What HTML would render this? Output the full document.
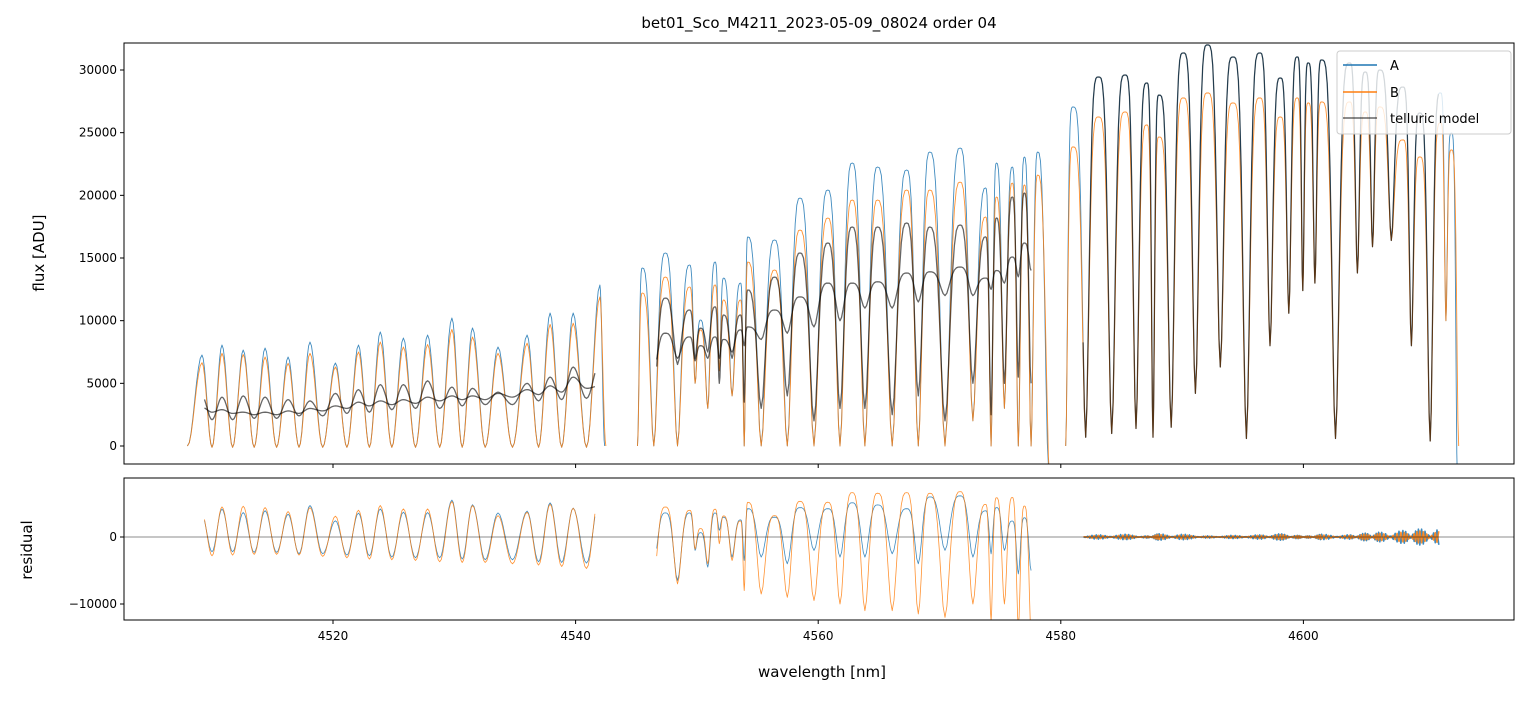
<!DOCTYPE html>
<html><head><meta charset="utf-8"><style>
body{margin:0;background:#fff;}
svg text{font-family:"DejaVu Sans","Liberation Sans",sans-serif;fill:#000;}
</style></head><body>
<svg id="fig" width="1534" height="696" xmlns="http://www.w3.org/2000/svg">
<defs>
<clipPath id="clipTop"><rect x="124" y="43" width="1390" height="421"/></clipPath>
<clipPath id="clipBot"><rect x="124" y="478" width="1390" height="142"/></clipPath>
</defs>
<rect width="1534" height="696" fill="#fff"/>
<text x="819" y="28" font-size="15" text-anchor="middle">bet01_Sco_M4211_2023-05-09_08024  order 04</text>
<g id="topData" clip-path="url(#clipTop)"></g>
<g id="botData" clip-path="url(#clipBot)"></g>
<rect x="124" y="43" width="1390" height="421" fill="none" stroke="#000" stroke-width="1"/>
<rect x="124" y="478" width="1390" height="142" fill="none" stroke="#000" stroke-width="1"/>
<g id="ticks"></g>
<text x="44" y="253" font-size="15" text-anchor="middle" transform="rotate(-90 44 253)">flux [ADU]</text>
<text x="32" y="550" font-size="15" text-anchor="middle" transform="rotate(-90 32 550)">residual</text>
<text x="822" y="677" font-size="15" text-anchor="middle">wavelength [nm]</text>
<g>
<rect x="1337" y="51" width="174" height="83" rx="3" fill="#fff" fill-opacity="0.8" stroke="#ccc"/>
<line x1="1343" y1="65" x2="1377" y2="65" stroke="#1f77b4" stroke-width="1.5"/>
<text x="1390" y="70" font-size="13">A</text>
<line x1="1343" y1="92" x2="1377" y2="92" stroke="#ff7f0e" stroke-width="1.5"/>
<text x="1390" y="97" font-size="13">B</text>
<line x1="1343" y1="118" x2="1377" y2="118" stroke="#000" stroke-opacity="0.6" stroke-width="1.5"/>
<text x="1390" y="123" font-size="13">telluric model</text>
</g>
</svg>
<script>
// ---- data ----
const xTicks=[4520,4540,4560,4580,4600];
const yTicksTop=[0,5000,10000,15000,20000,25000,30000];
const yTicksBot=[-10000,0];
// segment 1
const peakWl1=[4509.2,4510.85,4512.6,4514.4,4516.3,4518.1,4520.2,4522.1,4523.9,4525.8,4527.8,4529.8,4531.5,4533.6,4536.0,4537.9,4539.8,4542.0];
const peakA1=[7260,8060,7660,7820,7100,8300,6620,8060,9100,8620,8860,10210,9420,7900,8860,10610,10610,12850];
const peakB1=[6650,7400,7300,7100,6600,7400,6300,7500,8300,7900,8100,9300,8700,7400,8200,9700,9800,11900];
const troughD1=[-100,-100,-100,-100,-100,-100,-100,-100,-100,-100,-100,-100,-100,-100,-100,-100,-100];
const peakMA1=[4000,3900,4000,3900,3700,3600,4200,4500,4900,4900,5200,4700,4600,4300,5000,5500,6300,6700];
const troughMA1=[2100,2100,2200,2200,2400,2400,2600,2700,2900,3000,3000,3200,3300,3300,3600,3700,3800];
const peakMB1=[3100,2900,2700,2700,2800,3000,3200,3500,3600,3700,3900,4000,4000,4200,4500,4800,5500,4800];
const troughMB1=[2700,2600,2500,2500,2600,2800,3000,3200,3300,3400,3600,3700,3700,3900,4100,4300,4600];
// segment 2
const peakWl2=[4545.5,4547.4,4549.4,4550.3,4551.5,4552.2,4553.6,4554.2,4556.4,4558.5,4560.8,4562.8,4564.9,4567.3,4569.2,4571.7,4573.8,4574.7,4576.0,4577.0,4578.1];
const peakA2=[14200,15400,14440,10050,14680,13400,13000,16680,16440,19790,20430,22580,22260,22020,23460,23780,20590,22580,22260,23060,23460];
const peakB2=[12210,13480,12690,9260,12850,11650,11650,14680,14040,17230,18190,19630,19630,20430,20430,21060,18270,19870,20980,20830,21620];
const troughD2=[0,0,5000,3000,6000,4000,0,0,0,0,0,0,0,0,0,2000,0,3000,0,0];
const peakMA2=[11800,11800,10850,9400,11100,10450,10450,12450,13480,15400,16200,17470,17470,17790,17470,17630,16680,18190,19870,20190,16000];
const troughMA2=[4000,6500,7000,7500,5000,7000,3500,3000,4000,2000,3000,3000,2500,4000,2000,5000,2500,5000,5500,5000];
const peakMB2=[8000,9000,8700,8000,8700,8500,9260,9500,10850,11900,13000,13000,13100,13800,13900,14280,13400,14000,15080,16200,16000];
const troughMB2=[6000,7000,6800,7000,7000,7500,8000,8500,9000,9500,10000,11000,11000,11500,12000,12000,12500,13000,13500,14000];
// segment 3
const peakWl3=[4581.0,4583.1,4585.3,4587.1,4588.1,4590.1,4592.1,4594.2,4596.4,4598.1,4599.5,4600.4,4601.5,4603.8,4605.1,4606.3,4608.2,4609.6,4611.3,4612.2];
const peakA3=[27050,29440,29600,28960,28000,31360,32000,31040,31360,29360,31040,30560,30800,30560,29840,30000,28640,26570,28170,24970];
const peakB3=[23860,26250,26650,25610,24650,27770,28170,27370,27770,26250,27770,27370,27450,27450,26650,27050,24420,23060,25770,23620];
const troughD3=[700,1000,1400,700,1500,4200,6300,600,8000,10600,12400,13000,600,13800,15900,16400,8000,400,10000];
const noise3=[300,-400,500,-200,600,-500,200,-300,400,-600,300,-200,500,-400,700,-900,1200,-1500,1500,-2500];
// ---- axes ----
const X=w=>333+(w-4520)*12.13;
const YT=f=>446-f*0.012533;
const YB=r=>537-r*0.0067;
const NS="http://www.w3.org/2000/svg";
function build(wl,peaks,troughs,start,end,w0,w1){
  const pts=[[w0,start]];
  for(let i=0;i<wl.length;i++){
    pts.push([wl[i],peaks[i]]);
    if(i<wl.length-1)pts.push([(wl[i]+wl[i+1])/2,troughs[i]]);
  }
  pts.push([w1,end]);return pts;
}
function sample(pts,n,p){
  const out=[];
  for(let i=0;i<pts.length-1;i++){
    const [a,fa]=pts[i],[b,fb]=pts[i+1];
    for(let k=0;k<n;k++){
      const t=k/n;
      let u=fb<fa?Math.pow(t,p):1-Math.pow(1-t,p);
      const s=(1-Math.cos(Math.PI*u))/2;
      out.push([a+(b-a)*t,fa+(fb-fa)*s]);
    }
  }
  out.push(pts[pts.length-1]);return out;
}
function interp(s,w){
  if(w<=s[0][0])return s[0][1];
  for(let i=0;i<s.length-1;i++){if(w<=s[i+1][0]){const t=(w-s[i][0])/(s[i+1][0]-s[i][0]);return s[i][1]+(s[i+1][1]-s[i][1])*t;}}
  return s[s.length-1][1];
}
function path(g,s,Y,color,op,wdt,name){
  const p=document.createElementNS(NS,'path');
  p.setAttribute('d',s.map((q,i)=>(i?'L':'M')+X(q[0]).toFixed(1)+','+Y(q[1]).toFixed(1)).join(''));
  p.setAttribute('fill','none');p.setAttribute('stroke',color);p.setAttribute('stroke-opacity',op);p.setAttribute('stroke-width',wdt);
  p.setAttribute('stroke-linejoin','round');
  
  
  g.appendChild(p);
}
const topG=document.getElementById('topData'),botG=document.getElementById('botData');
const segs=[
 {wl:peakWl1,A:peakA1,B:peakB1,t:troughD1,MA:peakMA1,tMA:troughMA1,MB:peakMB1,tMB:troughMB1,w0:4508.0,w1:4542.4,mw0:4509.4,mw1:4541.6,n:8,sharp:1},
 {wl:peakWl2,A:peakA2,B:peakB2,t:troughD2,MA:peakMA2,tMA:troughMA2,MB:peakMB2,tMB:troughMB2,w0:4545.1,w1:4579.0,mw0:4546.6,mw1:4577.6,n:8,sharp:1.6},
 {wl:peakWl3,A:peakA3,B:peakB3,t:troughD3,MA:peakA3,tMA:troughD3,MB:peakB3,tMB:troughD3,w0:4580.4,w1:4612.7,mw0:4581.8,mw1:4611.2,n:10,sharp:2}
];
segs.forEach((s,si)=>{
  const endA=si==2?-3000:(si==1?-2000:0);
  const a=sample(build(s.wl,s.A,s.t,0,endA,s.w0,s.w1),s.n,s.sharp);
  const b=sample(build(s.wl,s.B,s.t,0,si==1?-3000:0,s.w0,s.w1+0.1),s.n,s.sharp);
  const mAfull=sample(build(s.wl,s.MA,s.tMA,s.MA[0]*0.4,s.MA[s.MA.length-1],s.w0,s.w1),s.n,s.sharp);
  const mBfull=sample(build(s.wl,s.MB,s.tMB,s.MB[0]*0.4,s.MB[s.MB.length-1],s.w0,s.w1),s.n,s.sharp);
  const inR=q=>q[0]>=s.mw0&&q[0]<=s.mw1;
  path(topG,a,YT,'#1f77b4',0.85,0.9,'spectrum-a-seg'+(si+1));
  path(topG,b,YT,'#ff7f0e',0.85,0.9,'spectrum-b-seg'+(si+1));
  path(topG,mAfull.filter(inR),YT,'#000',0.6,1.3,'telluric-model-a-seg'+(si+1));
  if(si<2)path(topG,mBfull.filter(inR),YT,'#000',0.6,1.3,'telluric-model-b-seg'+(si+1));
  let rA,rB;
  if(si<2){
    rA=a.filter(inR).map(q=>[q[0],q[1]-interp(mAfull,q[0])]);
    rB=b.filter(inR).map(q=>[q[0],q[1]-interp(mBfull,q[0])]);
  }else{
    const ns=sample(s.wl.map((w,i)=>[w,noise3[i]]),12,1);
    rA=[];rB=[];
    ns.filter(inR).forEach((q,i)=>{const sg=(i%2?1:-1);rA.push([q[0],q[1]*sg*0.8]);rB.push([q[0],-q[1]*sg*0.6]);});
  }
  path(botG,rA,YB,'#1f77b4',0.85,si==2?1.6:0.8,'residual-a-seg'+(si+1));
  path(botG,rB,YB,'#ff7f0e',0.85,si==2?1.6:0.8,'residual-b-seg'+(si+1));
});
// zero line
const z=document.createElementNS(NS,'line');
z.setAttribute('x1',124);z.setAttribute('x2',1514);z.setAttribute('y1',YB(0));z.setAttribute('y2',YB(0));
z.setAttribute('stroke','#000');z.setAttribute('stroke-opacity','0.6');z.setAttribute('stroke-width','0.7');


botG.appendChild(z);
// ticks
const tg=document.getElementById('ticks');
function tl(x1,y1,x2,y2){const l=document.createElementNS(NS,'line');l.setAttribute('x1',x1);l.setAttribute('y1',y1);l.setAttribute('x2',x2);l.setAttribute('y2',y2);l.setAttribute('stroke','#000');


tg.appendChild(l);}
function tt(x,y,s,anchor){const t=document.createElementNS(NS,'text');t.setAttribute('x',x);t.setAttribute('y',y);t.setAttribute('font-size','12');t.setAttribute('text-anchor',anchor);t.textContent=s;


tg.appendChild(t);}
xTicks.forEach(w=>{const x=X(w);tl(x,464,x,468);tl(x,620,x,624);tt(x,640,String(w),'middle');});
yTicksTop.forEach(v=>{const y=YT(v);tl(120,y,124,y);tt(117,y+4,String(v),'end');});
yTicksBot.forEach(v=>{const y=YB(v);tl(120,y,124,y);tt(117,y+4,v<0?'\u2212'+(-v):String(v),'end');});
</script>
</body></html>
